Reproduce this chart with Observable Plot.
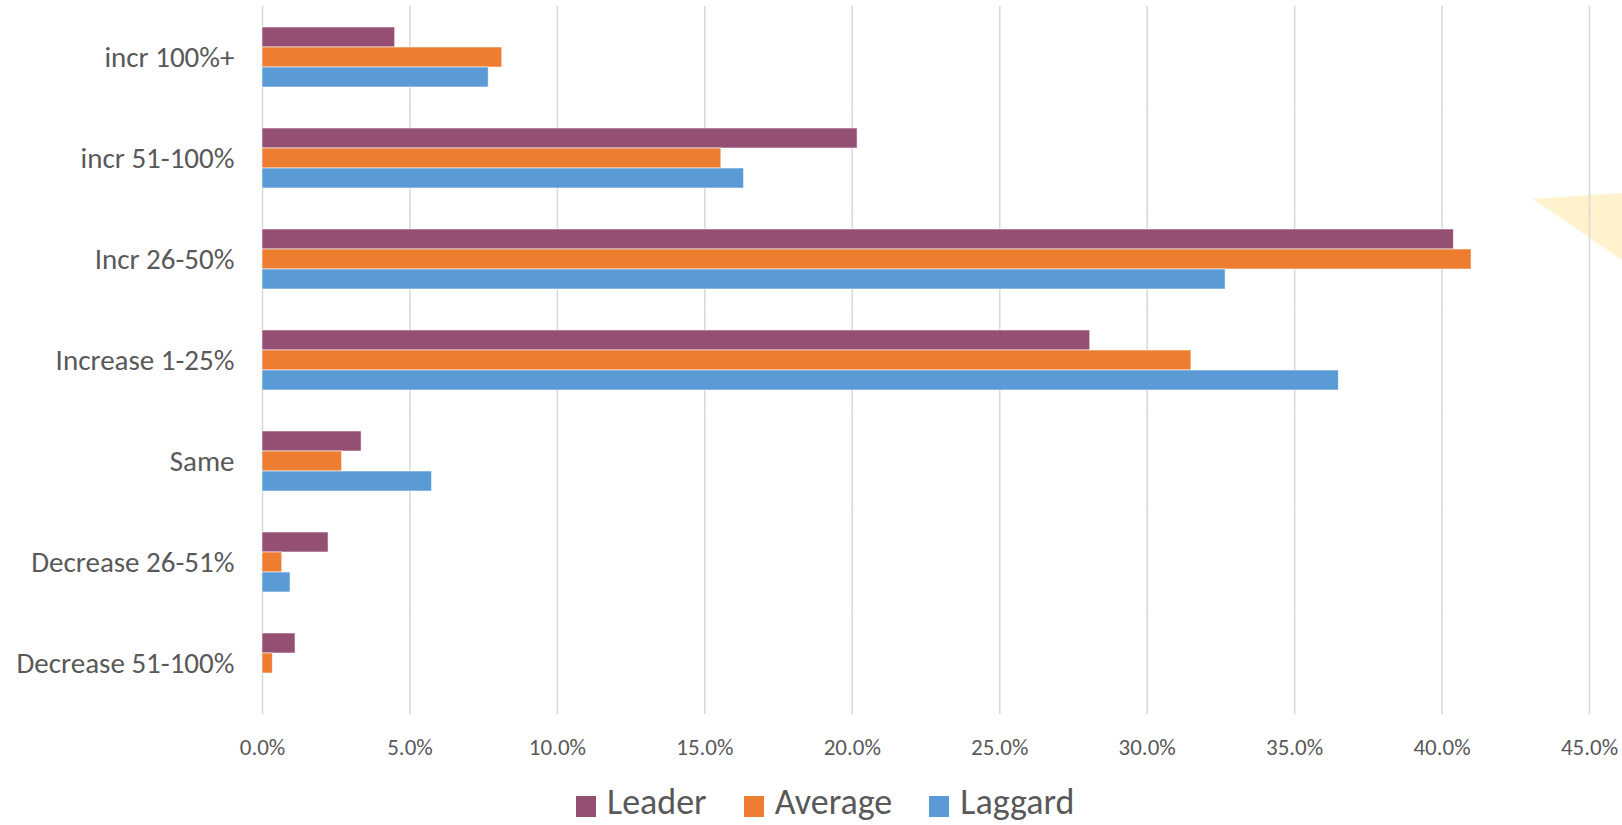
<!DOCTYPE html>
<html>
<head>
<meta charset="utf-8">
<script src="https://cdn.jsdelivr.net/npm/d3@7"></script>
<script src="https://cdn.jsdelivr.net/npm/@observablehq/plot@0.6"></script>
<style>
  html, body { margin: 0; padding: 0; background: #fff; overflow: hidden; }
  #wrap { position: relative; width: 1622px; height: 825px; }
  #deco { position: absolute; left: 1533px; top: 193px; width: 89px; height: 67px;
          background: #FFF2CC; clip-path: polygon(0px 6px, 89px 0px, 89px 67px); z-index: 0; }
  #chart { position: absolute; left: 0; top: 0; z-index: 1; }
  #chart svg { background: transparent; }
  #chart svg [aria-label^="x-axis"] text { font-size: 23px; fill: #595959; }
  #chart svg [aria-label^="fy-axis"] text { font-size: 29px; fill: #595959; }
  #legend { position: absolute; left: 576px; top: 784px; display: flex; align-items: flex-start;
            font-family: Carlito, Lato, sans-serif; font-size: 36px; line-height: 1; color: #595959; z-index: 1; }
  #legend .item { display: flex; align-items: flex-start; margin-right: 37px; }
  #legend .sw { width: 20px; height: 21px; margin-top: 12px; margin-right: 11px; }
</style>
</head>
<body>
<div id="wrap">
  <div id="deco"></div>
  <div id="chart"></div>
  <div id="legend"></div>
</div>
<script>
const categories = ["incr 100%+", "incr 51-100%", "Incr 26-50%", "Increase 1-25%", "Same", "Decrease 26-51%", "Decrease 51-100%"];
const seriesNames = ["Leader", "Average", "Laggard"];
const leader  = [0.0450, 0.2018, 0.4040, 0.2807, 0.0336, 0.0224, 0.0112];
const average = [0.0813, 0.1556, 0.4100, 0.3150, 0.0270, 0.0067, 0.0035];
const laggard = [0.0767, 0.1633, 0.3266, 0.3650, 0.0575, 0.0095, 0.0000];
const seriesColors = ["#954F72", "#ED7D31", "#5B9BD5"];
const xTicks = [0, 0.05, 0.10, 0.15, 0.20, 0.25, 0.30, 0.35, 0.40, 0.45];

const seriesValues = [leader, average, laggard];
const rows = [];
categories.forEach((c, i) => {
  seriesNames.forEach((s, j) => rows.push({category: c, series: s, value: seriesValues[j][i]}));
});

const FONT = "Carlito, Lato, sans-serif";

const chart = Plot.plot({
  width: 1622,
  height: 780,
  marginTop: 6,
  marginBottom: 66,
  marginLeft: 262,
  marginRight: 33,
  style: {background: "transparent", fontFamily: FONT, color: "#595959"},
  x: {domain: [0, 0.45], ticks: xTicks, tickFormat: d3.format(".1%"), tickSize: 0, tickPadding: 44, label: null},
  y: {domain: seriesNames, axis: null, padding: 0},
  fy: {domain: categories, paddingInner: 0.386, paddingOuter: 0.193, tickSize: 0, tickPadding: 28, label: null},
  color: {domain: seriesNames, range: seriesColors},
  facet: {data: rows, y: "category"},
  marks: [
    Plot.ruleX(xTicks, {stroke: "#d9d9d9", strokeWidth: 1.6, insetTop: -20, insetBottom: -20}),
    Plot.barX(rows, {x: "value", y: "series", fill: "series", stroke: "#ffffff", strokeOpacity: 0.7, strokeWidth: 0.8})
  ]
});
document.getElementById("chart").appendChild(chart);

const legend = document.getElementById("legend");
seriesNames.forEach((s, j) => {
  const item = document.createElement("div");
  item.className = "item";
  const sw = document.createElement("div");
  sw.className = "sw";
  sw.style.background = seriesColors[j];
  const t = document.createElement("span");
  t.textContent = s;
  item.appendChild(sw);
  item.appendChild(t);
  legend.appendChild(item);
});
</script>
</body>
</html>
